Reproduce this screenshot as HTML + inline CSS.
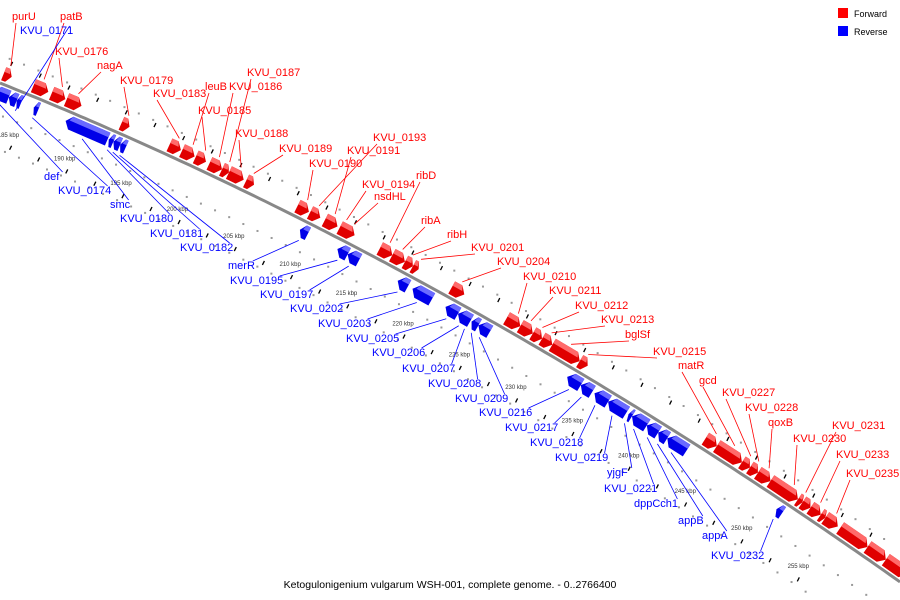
<!DOCTYPE html>
<html><head><meta charset="utf-8"><style>
html,body{margin:0;padding:0;background:#fff;width:900px;height:600px;overflow:hidden}
svg{display:block;font-family:"Liberation Sans","DejaVu Sans",sans-serif;overflow:hidden}
</style></head><body>
<svg id="chart" width="900" height="600" viewBox="0 0 900 600">
<g id="grid"></g>
<path id="backbone" fill="none" stroke="#888" stroke-width="3"/>
<g id="genes"></g>
<g id="labels"></g>
<g>
<rect x="838" y="8" width="10" height="10" fill="#f00"/>
<text x="854" y="17" font-size="9" fill="#000">Forward</text>
<rect x="838" y="26" width="10" height="10" fill="#00f"/>
<text x="854" y="35" font-size="9" fill="#000">Reverse</text>
</g>
<text x="450" y="588" font-size="10.5" text-anchor="middle" fill="#000">Ketogulonigenium vulgarum WSH-001, complete genome. - 0..2766400</text>
</svg>
<script>
// gene data (kbp)
const fwdStart=[182.8,185.4,187.0,188.3,193.1,197.3,198.4,199.6,200.8,201.9,202.5,204.0,208.5,209.6,210.9,212.2,215.7,216.8,217.9,218.6,222.0,226.8,228.0,229.1,229.9,230.8,233.2,244.2,245.2,247.4,248.1,248.8,249.9,252.3,252.7,253.4,254.3,254.7,256.0,258.4,260.0];
const fwdEnd=[183.5,186.7,188.2,189.6,193.8,198.3,199.5,200.5,201.9,202.5,203.8,204.7,209.5,210.5,212.0,213.5,216.8,217.9,218.6,219.1,223.1,228.0,229.1,229.9,230.8,233.2,233.9,245.2,247.4,248.1,248.8,249.9,252.3,252.7,253.4,254.3,254.7,255.8,258.4,260.0,261.9];
const revStart=[182.6,183.9,184.6,186.1,188.9,192.7,193.1,193.7,209.5,212.8,213.7,218.1,219.4,222.3,223.4,224.6,225.2,233.0,234.2,235.4,236.6,238.4,238.7,240.0,241.0,241.8,251.4];
const revEnd=[183.9,184.6,185.0,186.5,192.6,193.1,193.7,194.2,210.2,213.7,214.7,219.0,221.1,223.4,224.5,225.2,226.2,234.2,235.2,236.6,238.2,238.7,240.0,241.0,241.8,243.5,251.9];
const fwdNames=["purU","patB","KVU_0176","nagA","KVU_0179","KVU_0183","leuB","KVU_0185","KVU_0186","KVU_0187","KVU_0188","KVU_0189","KVU_0190","KVU_0193","KVU_0191","KVU_0194","nsdHL","ribD","ribA","ribH","KVU_0201","KVU_0204","KVU_0210","KVU_0211","KVU_0212","KVU_0213","bglSf","KVU_0215","matR","gcd","KVU_0227","KVU_0228","qoxB","KVU_0230","KVU_0231","KVU_0233","KVU_0235"];
const fwdTarget=[183.1,186.0,187.6,189.0,193.4,197.8,199.0,200.1,201.3,202.2,203.2,204.3,209.0,210.0,211.4,212.4,213.1,216.2,217.3,218.2,218.9,222.5,227.4,228.5,229.5,230.3,232.0,233.5,244.7,246.3,247.7,248.4,249.3,251.5,252.5,253.8,255.2];
const fwdLabelX=[12,60,55,97,120,153,205,198,229,247,235,279,309,373,347,362,374,416,421,447,471,497,523,549,575,601,625,653,678,699,722,745,768,793,832,836,846];
const fwdLabelY=[16,16,51,65,80,93,86,110,86,72,133,148,163,137,150,184,196,175,220,234,247,261,276,290,305,319,334,351,365,380,392,407,422,438,425,454,473];
const revNames=["KVU_0171","def","KVU_0174","smc","KVU_0180","KVU_0181","KVU_0182","merR","KVU_0195","KVU_0197","KVU_0202","KVU_0203","KVU_0205","KVU_0206","KVU_0207","KVU_0208","KVU_0209","KVU_0216","KVU_0217","KVU_0218","KVU_0219","yjgF","KVU_0221","dppCch1","appB","appA","KVU_0232"];
const revTarget=[184.8,183.4,186.3,190.7,192.9,193.4,194.0,209.8,213.2,214.2,218.5,220.2,222.8,223.9,224.4,225.0,225.7,233.6,234.7,235.9,237.4,238.5,239.3,240.5,241.4,242.6,251.6];
const revLabelX=[20,44,58,110,120,150,180,228,230,260,290,318,346,372,402,428,455,479,505,530,555,607,604,634,678,702,711];
const revLabelY=[30,176,190,204,218,233,247,265,280,294,308,323,338,352,368,383,398,412,427,442,457,472,488,503,520,535,555];
const kbpTicks=[185,190,195,200,205,210,215,220,225,230,235,240,245,250,255];

const NS="http://www.w3.org/2000/svg";
function xOf(k){return (k-182.8)*11.4;}
function yC(x){return 83+0.401*x+1.704e-4*x*x;}
function pt(k,off){const x=xOf(k);const d=0.401+3.408e-4*x;const L=Math.hypot(1,d);const tx=1/L,ty=d/L;return [x-ty*off, yC(x)+tx*off];}
function inside(p){return p[0]>=0&&p[0]<=898&&p[1]>=0&&p[1]<=597;}
function mk(tag,attrs,parent){const e=document.createElementNS(NS,tag);for(const a in attrs)e.setAttribute(a,attrs[a]);parent.appendChild(e);return e;}
function poly(ps){return ps.map(p=>p[0].toFixed(1)+","+p[1].toFixed(1)).join(" ");}

// backbone
let d="";for(let x=0;x<=900;x+=5){d+=(x===0?"M":"L")+x+","+Math.min(yC(x),599).toFixed(1);}
document.getElementById('backbone').setAttribute('d',d);

// scale track
const grid=document.getElementById('grid');
for(let k=182.8;k<=262;k+=1.25){
  for(const off of [-26,30,62]){
    const p=pt(k,off);
    if(!inside(p))continue;
    const r=mk('rect',{x:p[0]-1,y:p[1]-1,width:2,height:2,fill:'#999'},grid);
    
    
  }
}
for(let k=182.5;k<=262;k+=2.5){
  for(const off of [-22,56]){
    const p=pt(k+0.6,off);
    if(!inside(p))continue;
    const l=mk('line',{x1:p[0]-1,y1:p[1]+2,x2:p[0]+1,y2:p[1]-2,stroke:'#000','stroke-width':1.3},grid);
    
    
  }
}
kbpTicks.forEach(k=>{
  const p=pt(k,44);
  const t=mk('text',{x:p[0],y:p[1]+3,'font-size':6,'text-anchor':'middle',fill:'#333'},grid);
  t.textContent=k+" kbp";
  
  
});

// genes
const genes=document.getElementById('genes');
function drawGene(s,e,fwd,i){
  const o1=fwd?-3:3,o2=fwd?-17:17,om=(o1+o2)/2;
  const len=e-s;const ah=Math.min(0.45,len*0.5);
  let body;
  if(fwd){body=[pt(s,o1),pt(e-ah,o1),pt(e,om),pt(e-ah,o2),pt(s,o2)];}
  else{body=[pt(s,om),pt(s+ah,o1),pt(e,o1),pt(e,o2),pt(s+ah,o2)];}
  const g=mk('g',{},genes);
  
  
  mk('polygon',{points:poly(body),fill:fwd?'#e00000':'#0000e8'},g);
  const ot=fwd?o2:o1, ot2=fwd?o2+5:o1+5;
  let top;
  if(fwd){top=[pt(s,ot),pt(e-ah,ot),pt(e-ah*0.6,ot2),pt(s,ot2)];}
  else{top=[pt(s+ah,ot),pt(e,ot),pt(e,ot2),pt(s+ah*0.6,ot2)];}
  mk('polygon',{points:poly(top),fill:fwd?'#ff6a6a':'#6a6aff'},g);
}
fwdStart.forEach((s,i)=>drawGene(s,fwdEnd[i],true,i));
revStart.forEach((s,i)=>drawGene(s,revEnd[i],false,i));

// labels
const labels=document.getElementById('labels');
function drawLabel(name,tk,lx,ly,fwd){
  const w=name.length*6.2;
  const gp=pt(tk,fwd?-20:20);
  const sx=fwd?lx+4:lx+w, sy=fwd?ly+3:ly-8;
  const l=mk('line',{x1:sx,y1:sy,x2:gp[0],y2:gp[1],stroke:fwd?'#f00':'#00f','stroke-width':0.8},labels);
  
  
  const t=mk('text',{x:lx,y:ly,'font-size':11,fill:fwd?'#f00':'#00f'},labels);
  t.textContent=name;
  
  
}
fwdNames.forEach((n,i)=>drawLabel(n,fwdTarget[i],fwdLabelX[i],fwdLabelY[i]+4,true));
revNames.forEach((n,i)=>drawLabel(n,revTarget[i],revLabelX[i],revLabelY[i]+4,false));
</script>
</body></html>
